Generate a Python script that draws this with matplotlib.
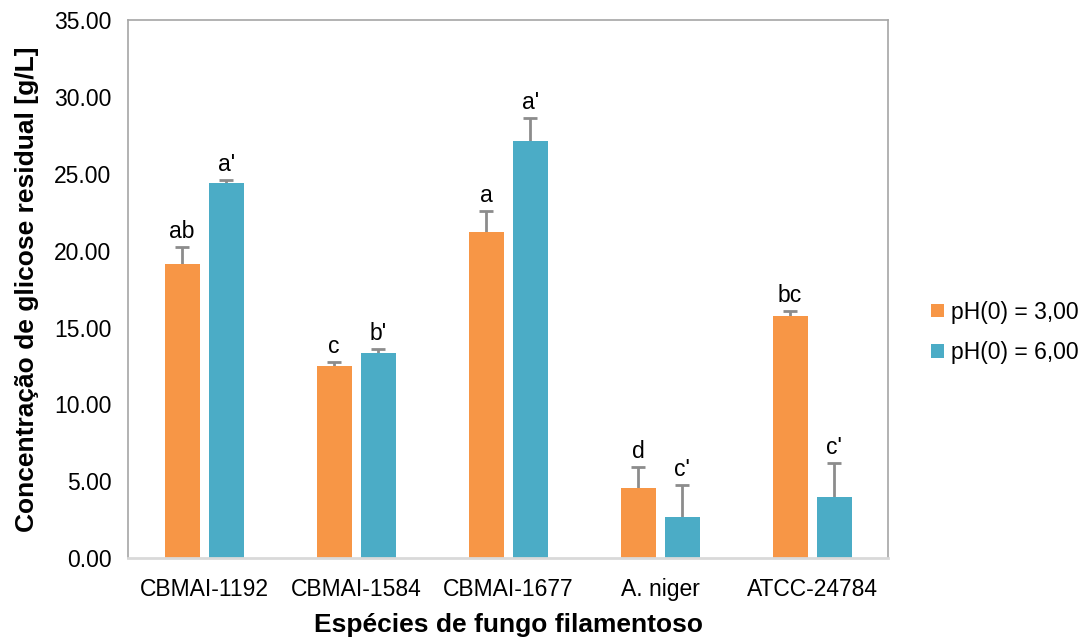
import matplotlib
matplotlib.use("Agg")
import matplotlib.pyplot as plt
import numpy as np

plt.rcParams['font.family'] = ['Liberation Sans', 'DejaVu Sans']

species = ["CBMAI-1192", "CBMAI-1584", "CBMAI-1677", "A. niger", "ATCC-24784"]
ph3_vals = [19.13, 12.49, 21.19, 4.57, 15.74]
ph3_err = [1.10, 0.25, 1.40, 1.37, 0.35]
ph6_vals = [24.40, 13.32, 27.10, 2.69, 3.99]
ph6_err = [0.20, 0.28, 1.50, 2.08, 2.20]
ph3_letters = ["ab", "c", "a", "d", "bc"]
ph6_letters = ["a'", "b'", "a'", "c'", "c'"]

fig = plt.figure(figsize=(10.87, 6.41), dpi=100)
ax = fig.add_axes([0.118, 0.129, 0.699, 0.840])

x = np.arange(len(species))
w = 0.23
off = 0.145

ax.bar(x - off, ph3_vals, w, color="#F79646", label="pH(0) = 3,00", zorder=2)
ax.bar(x + off, ph6_vals, w, color="#4BACC6", label="pH(0) = 6,00", zorder=2)

# upper error bars only
for xs, vals, errs in [(x - off, ph3_vals, ph3_err), (x + off, ph6_vals, ph6_err)]:
    eb = ax.errorbar(xs, vals, yerr=[np.zeros(len(xs)), errs], fmt="none",
                     ecolor="#8c8c8c", elinewidth=2, capsize=5, capthick=2, zorder=1)
    caps = eb.lines[1]
    caps[0].set_visible(False)

for i in range(len(x)):
    ax.text(x[i] - off, ph3_vals[i] + ph3_err[i] + 0.25, ph3_letters[i],
            ha="center", va="bottom", fontsize=16.5)
    ax.text(x[i] + off, ph6_vals[i] + ph6_err[i] + 0.25, ph6_letters[i],
            ha="center", va="bottom", fontsize=16.5)

ax.set_xlim(-0.5, len(x) - 0.5)
ax.set_ylim(0, 35)
ax.set_yticks(np.arange(0, 35.1, 5))
ax.set_yticklabels([f"{v:.2f}" for v in np.arange(0, 35.1, 5)])
ax.set_xticks(x)
ax.set_xticklabels(species)
ax.tick_params(axis="both", labelsize=16.5, length=0)
ax.tick_params(axis="y", pad=12)
ax.tick_params(axis="x", pad=14)

for s in ax.spines.values():
    s.set_color("#a6a6a6")
    s.set_linewidth(1.2)
ax.spines["bottom"].set_color("#d9d9d9")
ax.spines["bottom"].set_linewidth(2)

ax.set_xlabel("Espécies de fungo filamentoso", fontsize=19, fontweight="bold", labelpad=9)
ax.set_ylabel("Concentração de glicose residual [g/L]", fontsize=19, fontweight="bold", labelpad=11)

ax.legend(loc="center left", bbox_to_anchor=(1.045, 0.42), frameon=False,
          fontsize=16.5, handlelength=0.55, handleheight=0.55, handletextpad=0.3,
          labelspacing=0.75, borderaxespad=0)

fig.savefig("out.png", dpi=100)
